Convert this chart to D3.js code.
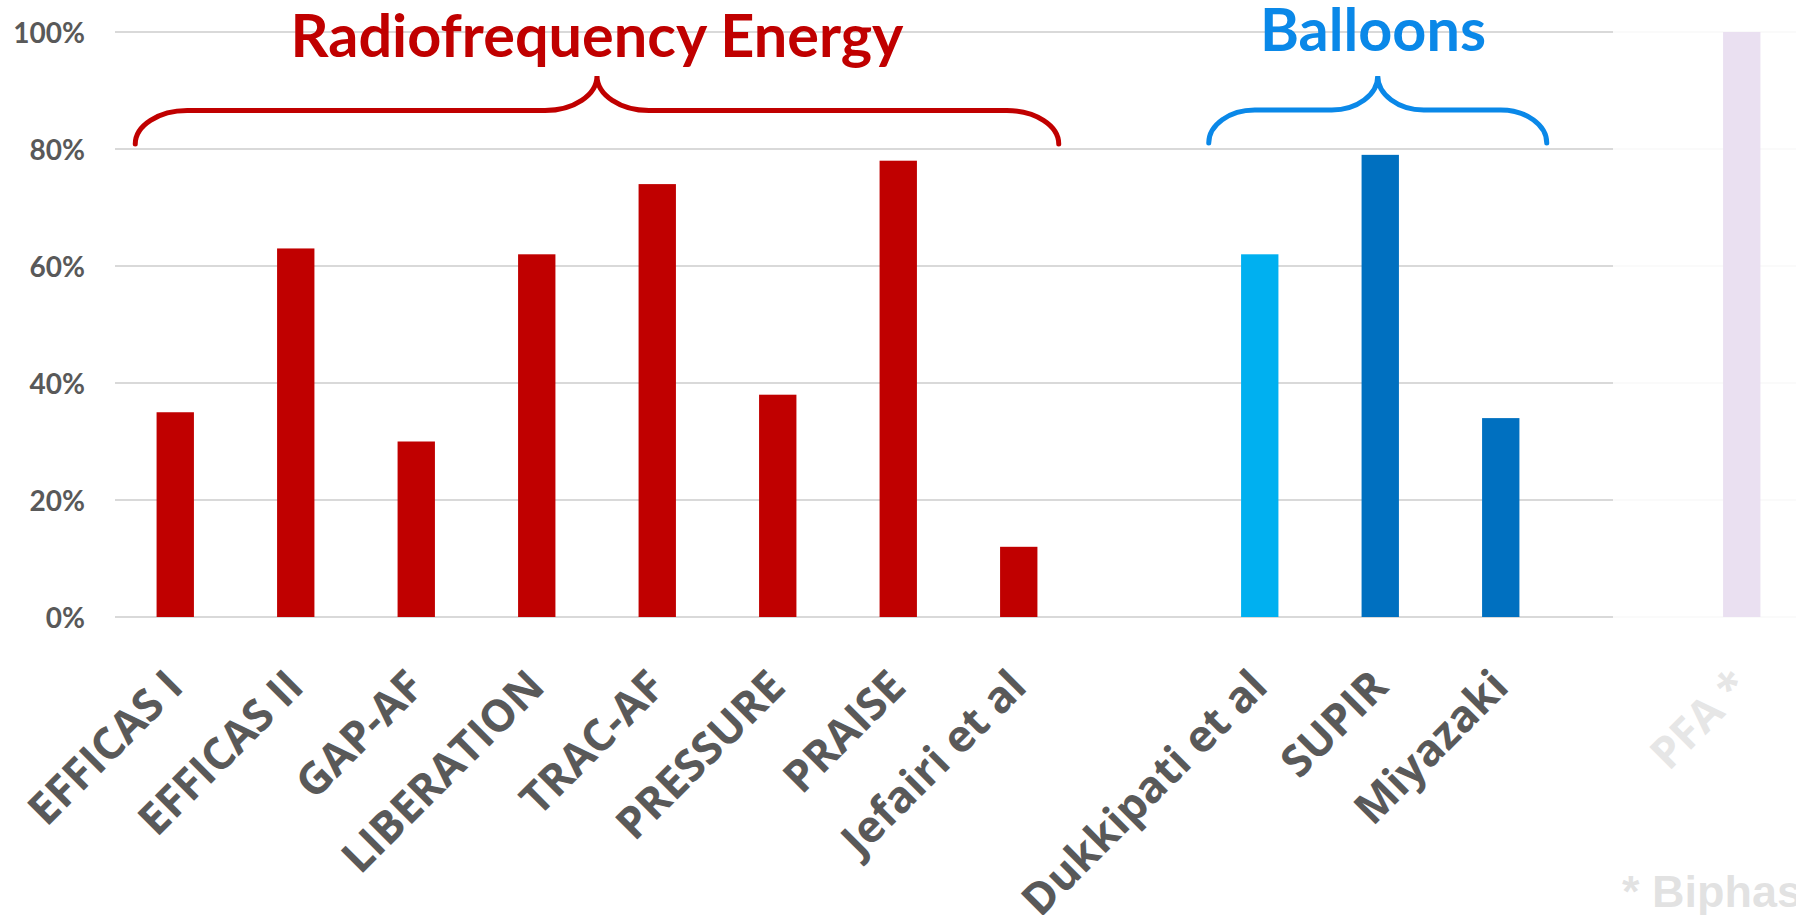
<!DOCTYPE html>
<html>
<head>
<meta charset="utf-8">
<script src="https://cdn.jsdelivr.net/npm/d3@7"></script>
<style>
  html, body { margin: 0; padding: 0; background: #fff; overflow: hidden; }
  svg { display: block; }
</style>
</head>
<body>
<svg id="chart" width="1796" height="915"></svg>
<script>
// Study groups and their success rates (%)
const rfStudies = ["EFFICAS I", "EFFICAS II", "GAP-AF", "LIBERATION", "TRAC-AF", "PRESSURE", "PRAISE", "Jefairi et al"];
const rfValues = [35, 63, 30, 62, 74, 38, 78, 12];

const balloonStudies = ["Dukkipati et al", "SUPIR", "Miyazaki"];
const balloonValues = [62, 79, 34];

const pfaStudies = ["PFA *"];
const pfaValues = [100];

const yTicks = [0, 20, 40, 60, 80, 100];

const groupTitles = ["Radiofrequency Energy", "Balloons"];
const footnote = "* Biphasic";

// Colours
const rfColor = "#C00000";
const balloonColors = ["#00B0F0", "#0070C0", "#0070C0"];
const pfaColor = "#7030A0";
const balloonTitleColor = "#0A88E8";
const labelGray = "#595959";
const gridGray = "#D9D9D9";

// Empty slots separate the groups on the category axis
const gapA = "__gapA", gapB = "__gapB";
const slots = [...rfStudies, gapA, ...balloonStudies, gapB, ...pfaStudies];

const bars = [
  ...rfStudies.map((s, i) => ({ study: s, value: rfValues[i], color: rfColor })),
  ...balloonStudies.map((s, i) => ({ study: s, value: balloonValues[i], color: balloonColors[i] })),
  ...pfaStudies.map((s, i) => ({ study: s, value: pfaValues[i], color: pfaColor }))
];

const W = 1796, H = 915;
const plotLeft = 115, plotRight = 1802, plotTop = 32, plotBottom = 617;

const svg = d3.select("#chart");

const x = d3.scaleBand()
  .domain(slots)
  .range([plotLeft, plotRight])
  .paddingInner(0.69)
  .paddingOuter(0.345);

const y = d3.scaleLinear()
  .domain([0, 100])
  .range([plotBottom, plotTop]);

// Horizontal gridlines
svg.append("g")
  .selectAll("line")
  .data(yTicks)
  .join("line")
  .attr("x1", plotLeft)
  .attr("x2", W)
  .attr("y1", d => y(d))
  .attr("y2", d => y(d))
  .attr("stroke", gridGray)
  .attr("stroke-width", 2);

// Y axis labels
const yAxis = d3.axisLeft(y)
  .tickValues(yTicks)
  .tickSize(0)
  .tickPadding(0)
  .tickFormat(d => d + "%");

const yg = svg.append("g")
  .attr("transform", `translate(85,0)`)
  .call(yAxis);
yg.select(".domain").remove();
yg.selectAll("text")
  .attr("fill", labelGray)
  .attr("font-family", "Lato, sans-serif")
  .attr("font-weight", 700)
  .attr("font-size", 28)
  .attr("dy", "0.36em");

// Bars
svg.append("g")
  .selectAll("rect")
  .data(bars)
  .join("rect")
  .attr("x", d => x(d.study))
  .attr("width", x.bandwidth())
  .attr("y", d => y(d.value))
  .attr("height", d => y(0) - y(d.value))
  .attr("fill", d => d.color);

// Category labels, rotated
const xAxis = d3.axisBottom(x)
  .tickSize(0)
  .tickFormat(d => d.startsWith("__") ? "" : d);

const xg = svg.append("g")
  .attr("transform", `translate(0,${plotBottom})`)
  .call(xAxis);
xg.select(".domain").remove();
xg.selectAll("text")
  .attr("fill", labelGray)
  .attr("font-family", "'Open Sans', sans-serif")
  .attr("font-weight", 700)
  .attr("font-size", 44)
  .attr("text-anchor", "end")
  .attr("y", 0)
  .attr("dy", 0)
  .attr("transform", "translate(10,72) rotate(-45)");

// Curly braces over the groups
function bracePath(x0, x1, yEnd, yBar, yTip, r) {
  const xm = (x0 + x1) / 2;
  const k = 0.55;
  const h1 = yEnd - yBar, h2 = yBar - yTip;
  return [
    `M${x0},${yEnd}`,
    `C${x0},${yEnd - h1 * k} ${x0 + r * (1 - k)},${yBar} ${x0 + r},${yBar}`,
    `L${xm - r},${yBar}`,
    `C${xm - r * (1 - k)},${yBar} ${xm},${yBar - h2 * (1 - k)} ${xm},${yTip}`,
    `C${xm},${yBar - h2 * (1 - k)} ${xm + r * (1 - k)},${yBar} ${xm + r},${yBar}`,
    `L${x1 - r},${yBar}`,
    `C${x1 - r * (1 - k)},${yBar} ${x1},${yEnd - h1 * k} ${x1},${yEnd}`
  ].join(" ");
}

const centre = s => x(s) + x.bandwidth() / 2;

const rfBrace = { x0: centre(rfStudies[0]) - 40, x1: centre(rfStudies[rfStudies.length - 1]) + 40 };
const blBrace = { x0: centre(balloonStudies[0]) - 51, x1: centre(balloonStudies[balloonStudies.length - 1]) + 46 };

svg.append("path")
  .attr("d", bracePath(rfBrace.x0, rfBrace.x1, 144, 110.5, 76, 52))
  .attr("fill", "none")
  .attr("stroke", rfColor)
  .attr("stroke-width", 5)
  .attr("stroke-linecap", "round");

svg.append("path")
  .attr("d", bracePath(blBrace.x0, blBrace.x1, 143, 110, 76, 46))
  .attr("fill", "none")
  .attr("stroke", balloonTitleColor)
  .attr("stroke-width", 5)
  .attr("stroke-linecap", "round");

// Group titles, sized to span their widths
function fitTitle(text, cx, baseline, color, width) {
  const t = svg.append("text")
    .text(text)
    .attr("x", cx)
    .attr("y", baseline)
    .attr("text-anchor", "middle")
    .attr("fill", color)
    .attr("font-family", "Lato, sans-serif")
    .attr("font-weight", 700)
    .attr("font-size", 60);
  const len = t.node().getComputedTextLength();
  t.attr("font-size", 60 * width / len);
}
fitTitle(groupTitles[0], (rfBrace.x0 + rfBrace.x1) / 2, 57, rfColor, 613);
fitTitle(groupTitles[1], 1373, 51, balloonTitleColor, 226);

// Footnote
svg.append("text")
  .text(footnote)
  .attr("x", 1622)
  .attr("y", 907)
  .attr("fill", "#404040")
  .attr("font-family", "'Liberation Sans', Arial, sans-serif")
  .attr("font-weight", 700)
  .attr("font-size", 45);

// Faded panel over the PFA section
svg.append("rect")
  .attr("x", 1613)
  .attr("y", 0)
  .attr("width", W - 1613)
  .attr("height", H)
  .attr("fill", "#fff")
  .attr("fill-opacity", 0.85);
</script>
</body>
</html>
